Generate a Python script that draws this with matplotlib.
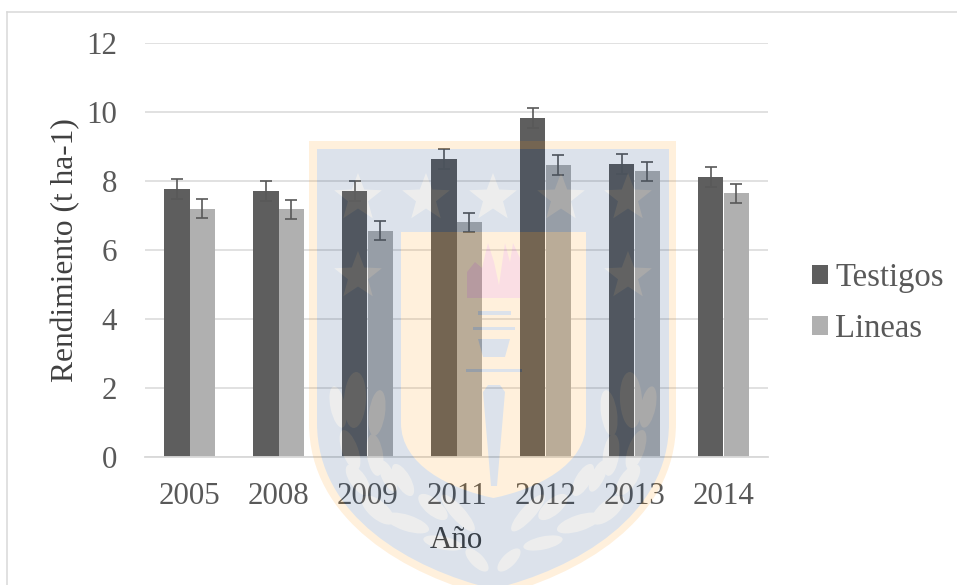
import numpy as np
import matplotlib
matplotlib.use('Agg')
import matplotlib.pyplot as plt
from matplotlib.backends.backend_agg import FigureCanvasAgg
from matplotlib.figure import Figure
from matplotlib.patches import Ellipse, PathPatch, Polygon, Rectangle
from matplotlib.path import Path

years = ['2005', '2008', '2009', '2011', '2012', '2013', '2014']
testigos = [7.76, 7.71, 7.70, 8.63, 9.82, 8.48, 8.13]
lineas = [7.20, 7.18, 6.56, 6.80, 8.46, 8.28, 7.64]
err_testigos = [0.29, 0.29, 0.29, 0.29, 0.29, 0.29, 0.29]
err_lineas = [0.28, 0.28, 0.28, 0.28, 0.28, 0.28, 0.28]

W, H = 957, 585
plt.rcParams['font.family'] = ['Liberation Serif', 'DejaVu Serif']


def shield(left, right, top, mid, bottom):
    # straight sides, rounded bottom
    c = (left + right) / 2
    dx = (right - left) * 0.235
    dy = bottom - mid
    verts = [(left, top), (right, top), (right, mid),
             (right, mid + dy * 0.56), (c + dx, mid + dy * 0.88), (c, bottom),
             (c - dx, mid + dy * 0.88), (left, mid + dy * 0.56), (left, mid),
             (left, top)]
    codes = [Path.MOVETO, Path.LINETO, Path.LINETO,
             Path.CURVE4, Path.CURVE4, Path.CURVE4,
             Path.CURVE4, Path.CURVE4, Path.CURVE4,
             Path.CLOSEPOLY]
    return Path(verts, codes)


def star(ax, x, y, r, color):
    ang = np.pi / 2 + np.arange(10) * np.pi / 5
    rad = np.where(np.arange(10) % 2 == 0, r, r * 0.42)
    pts = np.c_[x + rad * np.cos(ang), y - rad * np.sin(ang)]
    ax.add_patch(Polygon(pts, fc=color, ec='none'))


def make_crest():
    # university crest sitting over the whole page, drawn once then faded
    fig = Figure(figsize=(W / 100, H / 100), dpi=100)
    canvas = FigureCanvasAgg(fig)
    fig.patch.set_alpha(0)
    ax = fig.add_axes([0, 0, 1, 1])
    ax.set_xlim(0, W)
    ax.set_ylim(H, 0)
    ax.axis('off')

    orange = '#ff9607'
    blue = '#003272'
    grey = '#828282'
    ax.add_patch(PathPatch(shield(309, 676, 141, 423, 597), fc=orange, ec='none'))
    ax.add_patch(PathPatch(shield(317, 669, 149, 423, 589), fc=blue, ec='none'))
    ax.add_patch(PathPatch(shield(401, 586, 232, 423, 498), fc=orange, ec='none'))

    for x in [358, 426, 493, 561, 628]:
        star(ax, x, 198, 25, grey)
    for x in [358, 628]:
        star(ax, x, 276, 25, grey)

    # leaves, left branch mirrored onto the right
    leaves = [(355, 400, 22, 56, 3), (338, 407, 15, 42, -12), (377, 413, 16, 46, 8),
              (350, 450, 16, 42, -20), (375, 455, 16, 42, -8), (358, 480, 16, 36, -35),
              (388, 476, 13, 34, -25), (403, 480, 15, 36, -30), (378, 510, 18, 40, -50),
              (407, 523, 16, 46, -72), (433, 507, 16, 36, -50), (458, 513, 14, 48, -42),
              (443, 543, 13, 40, -78), (477, 560, 13, 30, -45)]
    for x, y, w, h, a in leaves:
        ax.add_patch(Ellipse((x, y), w, h, angle=a, fc=grey, ec='none'))
        ax.add_patch(Ellipse((986 - x, y), w, h, angle=-a, fc=grey, ec='none'))

    # torch
    flame = [(467, 298), (467, 272), (475, 262), (482, 268), (488, 243), (494, 262),
             (499, 285), (505, 243), (510, 262), (513, 243), (520, 258), (520, 298)]
    ax.add_patch(Polygon(flame, fc='#e0103c', ec='none'))
    ax.add_patch(Rectangle((478, 311), 33, 4, fc=blue, ec='none'))
    ax.add_patch(Rectangle((473, 327), 42, 3, fc=blue, ec='none'))
    ax.add_patch(Polygon([(478, 339), (510, 339), (505, 357), (483, 357)], fc=blue, ec='none'))
    ax.add_patch(Rectangle((466, 369), 56, 3, fc=blue, ec='none'))
    ax.add_patch(Polygon([(483, 392), (488, 385), (500, 385), (505, 392),
                          (497, 486), (491, 486)], fc=blue, ec='none'))

    canvas.draw()
    return np.asarray(canvas.buffer_rgba()).copy()


fig = plt.figure(figsize=(W / 100, H / 100), dpi=100)
ax = fig.add_axes([145 / W, 1 - 457 / H, 623 / W, 414 / H])

x = np.arange(len(years))
width = 0.2845
err_style = dict(ecolor='#595959', elinewidth=1.2, capsize=4.3, capthick=1.2)
ax.bar(x - width / 2, testigos, width, color='#5e5e5e', label='Testigos',
       yerr=err_testigos, error_kw=err_style, zorder=2)
ax.bar(x + width / 2, lineas, width, color='#b0b0b0', label='Lineas',
       yerr=err_lineas, error_kw=err_style, zorder=2)

ax.set_xlim(-0.5, 6.5)
ax.set_ylim(0, 12)
ax.set_yticks(range(0, 13, 2))
ax.set_xticks(x)
ax.set_xticklabels(years)
ax.grid(axis='y', color='#d9d9d9', lw=1.1, zorder=0)
ax.tick_params(length=0, labelsize=22.3, labelcolor='#595959')
ax.tick_params(axis='x', pad=18)
ax.tick_params(axis='y', pad=20)
for s in ['top', 'right', 'left']:
    ax.spines[s].set_visible(False)
ax.spines['bottom'].set_color('#d9d9d9')
ax.spines['bottom'].set_linewidth(1.3)

ax.set_xlabel('Año', fontsize=22.3, color='#404040', labelpad=10.5)
ax.set_ylabel('Rendimiento (t ha-1)', fontsize=22.7, color='#404040', labelpad=4)

ax.legend(loc='center left', bbox_to_anchor=(1.071, 0.371), frameon=False, fontsize=23.5,
          labelcolor='#595959', handlelength=0.49, handleheight=0.49, handletextpad=0.21,
          labelspacing=0.62, borderpad=0, borderaxespad=0)

# chart frame, only top and left show in the scan
fig.add_artist(plt.Line2D([7.5 / W, 7.5 / W], [0, 1 - 11.5 / H], color='#d9d9d9', lw=1.1))
fig.add_artist(plt.Line2D([7.5 / W, 1], [1 - 11.5 / H, 1 - 11.5 / H], color='#d9d9d9', lw=1.1))

fig.figimage(make_crest(), alpha=0.14, origin='upper', zorder=10)

fig.savefig('out.png', dpi=100)
